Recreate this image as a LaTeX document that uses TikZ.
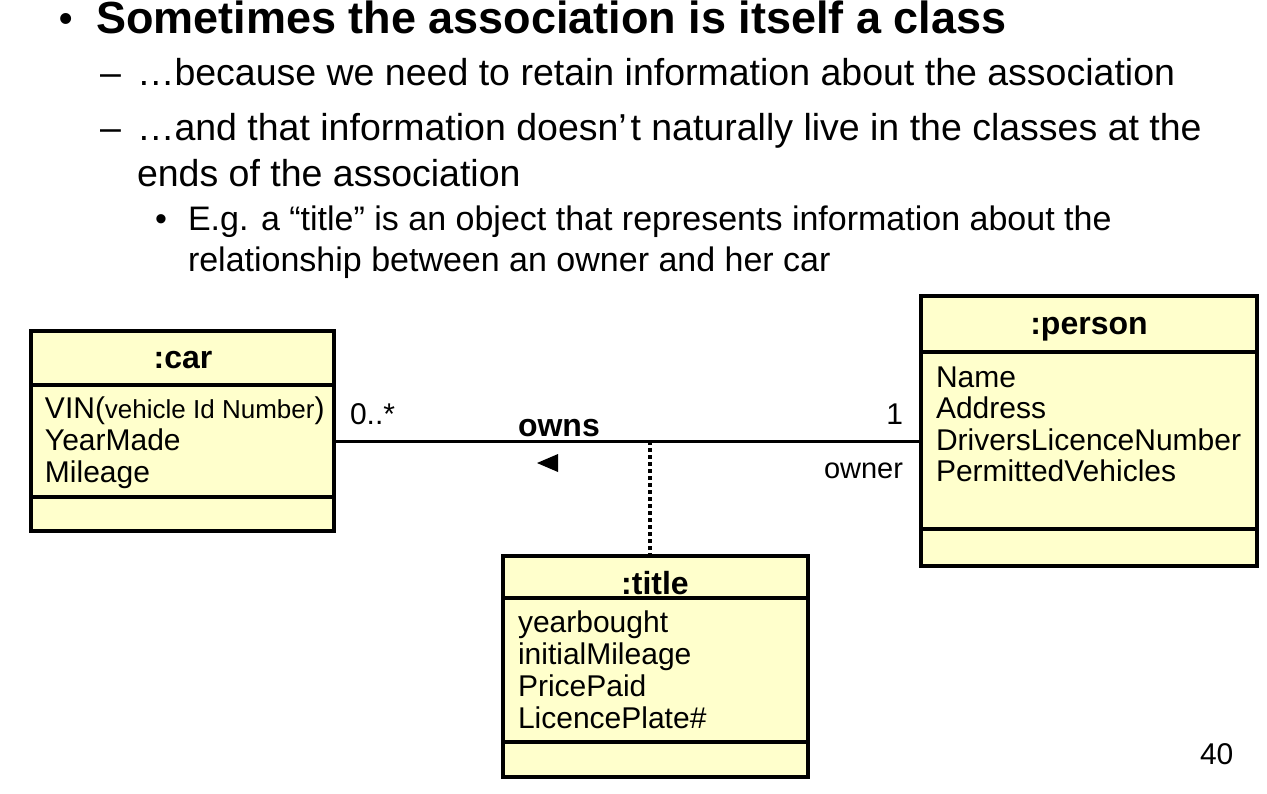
\documentclass[tikz,border=0pt]{standalone}
\usepackage{fontspec}
\setmainfont{Liberation Sans}
\definecolor{boxfill}{RGB}{255,255,204}
\tikzset{
  umlbox/.style={draw, line width=4pt, fill=boxfill, inner sep=0pt, outer sep=0pt, anchor=north west},
  sepline/.style={line width=4pt},
  assoc/.style={line width=3pt},
  dotline/.style={line width=3.5pt, dash pattern=on 3.5pt off 3.5pt},
  txt/.style={anchor=base west, inner sep=0pt, outer sep=0pt},
  rtxt/.style={anchor=base east, inner sep=0pt, outer sep=0pt},
  ctxt/.style={anchor=base, inner sep=0pt, outer sep=0pt},
  hone/.style={font=\fontsize{45}{54}\selectfont\bfseries},
  htwo/.style={font=\fontsize{37.5}{45}\selectfont},
  hthree/.style={font=\fontsize{34}{41}\selectfont},
  cname/.style={font=\fontsize{32}{36}\selectfont\bfseries},
  attr/.style={font=\fontsize{30}{32}\selectfont},
}
\begin{document}
\begin{tikzpicture}[x=1pt,y=-1pt]
\useasboundingbox (0,0) rectangle (1267,793);

% ---- bullet text ----
\node[txt,font=\fontsize{38}{45}\selectfont\bfseries] (b1) at (59,31) {•};
\node[txt,hone] (t1) at (96,33.5) {Sometimes the association is itself a class};
\node[txt,htwo] (d1) at (100,85) {–};
\node[txt,htwo] (t2) at (137,85) {…because we need to retain information about the association};
\node[txt,htwo] (d2) at (100,140) {–};
\node[txt,htwo] (t3) at (137,140) {…and that information doesn’\kern0.1em t naturally live in the classes at the};
\node[txt,htwo] (t4) at (137,186) {ends of the association};
\node[txt,hthree] (b2) at (155,230) {•};
\node[txt,hthree] (t5) at (188,230) {E.g. a “title” is an object that represents information about the};
\node[txt,hthree] (t6) at (188,271) {relationship between an owner and her car};

% ---- classes ----
\node[umlbox, minimum width=303pt, minimum height=200pt] (car) at (31,331) {};
\draw[sepline] ([yshift=-54pt]car.north west) -- ([yshift=-54pt]car.north east);
\draw[sepline] ([yshift=34pt]car.south west) -- ([yshift=34pt]car.south east);

\node[umlbox, minimum width=336pt, minimum height=270pt] (person) at (921,296) {};
\draw[sepline] ([yshift=-56pt]person.north west) -- ([yshift=-56pt]person.north east);
\draw[sepline] ([yshift=37pt]person.south west) -- ([yshift=37pt]person.south east);

\node[umlbox, minimum width=305pt, minimum height=221pt] (title) at (503,556) {};
\draw[sepline] ([yshift=-42pt]title.north west) -- ([yshift=-42pt]title.north east);
\draw[sepline] ([yshift=35pt]title.south west) -- ([yshift=35pt]title.south east);

% class names
\node[ctxt,cname] (carname) at (183,368) {:car};
\node[ctxt,cname] (personname) at (1089,334) {:person};
\node[ctxt,cname] (titlename) at (655,594) {:title};

% car attributes
\node[txt,attr] (ca1) at (45,418) {VIN({\fontsize{26}{30}\selectfont vehicle Id Number})};
\node[txt,attr] (ca2) at (45,450) {YearMade};
\node[txt,attr] (ca3) at (45,482) {Mileage};

% person attributes
\node[txt,attr] (pa1) at (936,387) {Name};
\node[txt,attr] (pa2) at (936,418) {Address};
\node[txt,attr] (pa3) at (936,450) {DriversLicenceNumber};
\node[txt,attr] (pa4) at (936,481) {PermittedVehicles};

% title attributes
\node[txt,attr] (ta1) at (518,632) {yearbought};
\node[txt,attr] (ta2) at (518,664) {initialMileage};
\node[txt,attr] (ta3) at (518,696) {PricePaid};
\node[txt,attr] (ta4) at (518,728) {LicencePlate\#};

% ---- association ----
\coordinate (mid) at (650,441);
\draw[assoc] (car.east |- mid) -- (person.west |- mid);
\draw[dotline] (mid) -- (mid |- title.north);
\fill (537,463) -- (558,454) -- (558,472) -- cycle;

\node[txt,attr] (mult1) at (350,424) {0..*};
\node[rtxt,attr] (mult2) at (903,424) {1};
\node[txt,cname] (owns) at (518,436) {owns};
\node[rtxt,font=\fontsize{29}{32}\selectfont] (role) at (903,478) {owner};

% page number
\node[txt,attr] (pg) at (1200,764) {40};
\end{tikzpicture}
\end{document}
